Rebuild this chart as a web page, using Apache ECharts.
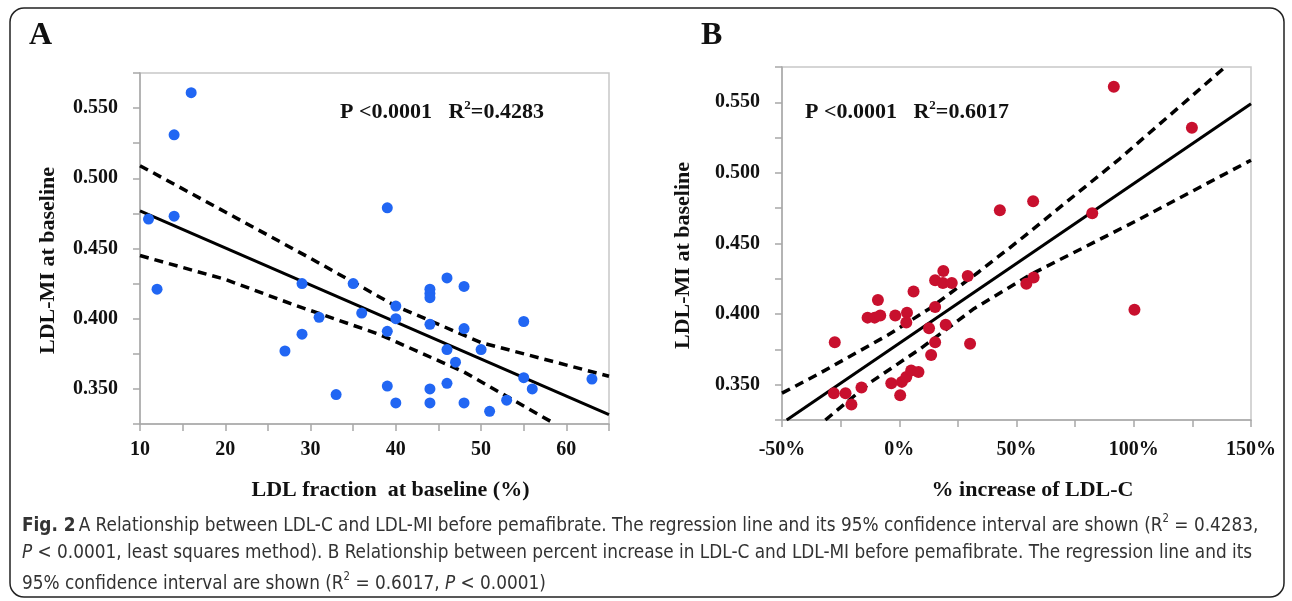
<!DOCTYPE html>
<html>
<head>
<meta charset="UTF-8">
<title>LDL-MI at baseline</title>
<script src="https://cdn.jsdelivr.net/npm/echarts@6/dist/echarts.min.js"></script>
<style>
  html, body { margin: 0; padding: 0; background: #fff; }
  #container { width: 1292px; height: 601px; }
</style>
</head>
<body>
<div id="container"></div>
<script>
// panel A: LDL fraction (%) vs LDL-MI
var ldlFraction = [16, 14, 11, 14, 39, 12, 29, 35, 36, 31, 29, 39, 27, 39, 33, 46, 48, 44, 44, 44,
  40, 40, 44, 48, 55, 46, 50, 47, 55, 56, 63, 40, 44, 44, 46, 48, 53, 51];
var ldlMiA = [0.561, 0.531, 0.471, 0.473, 0.479, 0.421, 0.425, 0.425, 0.404, 0.401, 0.389, 0.391, 0.377, 0.352, 0.346, 0.429, 0.423, 0.421, 0.418, 0.415,
  0.409, 0.400, 0.396, 0.393, 0.398, 0.378, 0.378, 0.369, 0.358, 0.350, 0.357, 0.340, 0.350, 0.340, 0.354, 0.340, 0.342, 0.334];
var fitA = [[10, 0.4768], [65, 0.3317]];
var upperA = [[10, 0.509], [20, 0.476], [30, 0.443], [40, 0.409], [50, 0.383], [65, 0.359]];
var lowerA = [[10, 0.445], [20, 0.428], [28, 0.410], [38, 0.389], [48, 0.362], [58.7, 0.325]];

// panel B: % increase of LDL-C vs LDL-MI
var pctIncrease = [-27.5, -27.9, -22.9, -20.4, -16.1, -13.5, -10.5, -8.1, -9.1, -1.7, 3.3, 3.0, 6.1, -3.4, 0.4, 1.1, 3.0, 5.1, 8.2,
  12.7, 13.6, 15.3, 15.3, 15.3, 18.8, 18.6, 22.4, 19.8, 29.2, 30.2, 54.2, 91.5, 124.8, 57.1, 82.3, 57.3, 100.3, 42.9];
var ldlMiB = [0.380, 0.344, 0.344, 0.336, 0.348, 0.3975, 0.3975, 0.399, 0.410, 0.399, 0.401, 0.394, 0.416, 0.351, 0.3425, 0.352, 0.3555, 0.360, 0.359,
  0.390, 0.371, 0.380, 0.405, 0.424, 0.4305, 0.422, 0.422, 0.3925, 0.427, 0.379, 0.4215, 0.561, 0.532, 0.480, 0.4715, 0.426, 0.403, 0.4735];
var fitB = [[-48, 0.325], [150, 0.549]];
var upperB = [[-50, 0.344], [-34, 0.358], [-5, 0.385], [13, 0.404], [34, 0.430], [51, 0.452], [94, 0.510], [139, 0.575]];
var lowerB = [[-31.5, 0.325], [-12, 0.352], [9, 0.3755], [32, 0.404], [56, 0.428], [101, 0.466], [150, 0.509]];

var serif = '"Liberation Serif", "DejaVu Serif", serif';
var narrow = '"Liberation Sans Narrow", "DejaVu Sans Condensed", "Noto Sans", sans-serif';
var axisGrey = '#a8a8a8';

function pairs(xs, ys) {
  return xs.map(function (x, i) { return [x, ys[i]]; });
}

function yAxisFor(grid, gap) {
  return {
    type: 'value', gridIndex: grid, min: 0.325, max: 0.575, interval: 0.025,
    name: 'LDL-MI at baseline', nameLocation: 'middle', nameGap: gap,
    nameTextStyle: { fontFamily: serif, fontWeight: 'bold', fontSize: 22, color: '#111', padding: [0, 24, 0, 0] },
    axisLine: { show: true, onZero: false, lineStyle: { color: axisGrey, width: 1.5 } },
    axisTick: { show: true, length: 7, lineStyle: { color: axisGrey, width: 1.5 } },
    axisLabel: {
      margin: 22, fontFamily: serif, fontWeight: 'bold', fontSize: 20, color: '#111',
      formatter: function (v) { return Math.round(v * 1000) % 50 === 0 ? v.toFixed(3) : ''; }
    },
    splitLine: { show: false }
  };
}

function xAxisFor(grid, min, max, step, label, name, gap, margin) {
  return {
    type: 'value', gridIndex: grid, min: min, max: max, interval: step,
    name: name, nameLocation: 'middle', nameGap: gap,
    nameTextStyle: { fontFamily: serif, fontWeight: 'bold', fontSize: 22, color: '#111', padding: [0, 0, 0, 32] },
    axisLine: { show: true, onZero: false, lineStyle: { color: axisGrey, width: 1.5 } },
    axisTick: { show: true, length: 7, lineStyle: { color: axisGrey, width: 1.5 } },
    axisLabel: { margin: margin, fontFamily: serif, fontWeight: 'bold', fontSize: 20, color: '#111', formatter: label },
    splitLine: { show: false }
  };
}

function dashed(grid, data) {
  return {
    type: 'line', xAxisIndex: grid, yAxisIndex: grid, data: data, smooth: false,
    showSymbol: false, silent: true,
    lineStyle: { color: '#000', width: 3.5, type: [9, 6] }
  };
}

function captionLine(top, text) {
  return {
    type: 'text', left: 22, top: top, scaleX: 0.94,
    style: {
      text: text,
      rich: {
        b: { fontFamily: narrow, fontWeight: 'bold', fontSize: 20, fill: '#333', lineHeight: 26 },
        n: { fontFamily: narrow, fontSize: 20, fill: '#333', lineHeight: 26 },
        i: { fontFamily: narrow, fontStyle: 'italic', fontSize: 20, fill: '#333', lineHeight: 26 },
        s: { fontFamily: narrow, fontSize: 12, fill: '#333', verticalAlign: 'top', lineHeight: 26 }
      }
    }
  };
}

var noteRich = {
  a: { fontFamily: serif, fontWeight: 'bold', fontSize: 22, fill: '#111', lineHeight: 26 },
  s: { fontFamily: serif, fontWeight: 'bold', fontSize: 13, fill: '#111', verticalAlign: 'top', lineHeight: 26 }
};

var myChart = echarts.init(document.getElementById('container'));
var option = {
  backgroundColor: '#fff',
  animation: false,
  grid: [
    { left: 140, top: 73, width: 469, height: 351, show: true, borderColor: '#c8c8c8', borderWidth: 1.5, outerBoundsMode: 'none' },
    { left: 782, top: 67, width: 469, height: 353, show: true, borderColor: '#c8c8c8', borderWidth: 1.5, outerBoundsMode: 'none' }
  ],
  xAxis: [
    xAxisFor(0, 10, 65, 5, function (v) { return v % 10 === 0 ? String(v) : ''; },
      'LDL fraction  at baseline (%)', 55, 16),
    xAxisFor(1, -50, 150, 25, function (v) { return v % 50 === 0 ? v + '%' : ''; },
      '% increase of LDL-C', 59, 20)
  ],
  yAxis: [yAxisFor(0, 81), yAxisFor(1, 88)],
  series: [
    {
      type: 'scatter', xAxisIndex: 0, yAxisIndex: 0, data: pairs(ldlFraction, ldlMiA),
      symbolSize: 11, itemStyle: { color: '#2166f3', opacity: 1 }, z: 3
    },
    {
      type: 'line', xAxisIndex: 0, yAxisIndex: 0, data: fitA, showSymbol: false, silent: true,
      lineStyle: { color: '#000', width: 3 }
    },
    dashed(0, upperA),
    dashed(0, lowerA),
    {
      type: 'scatter', xAxisIndex: 1, yAxisIndex: 1, data: pairs(pctIncrease, ldlMiB),
      symbolSize: 12, itemStyle: { color: '#c8102e', opacity: 1 }, z: 3
    },
    {
      type: 'line', xAxisIndex: 1, yAxisIndex: 1, data: fitB, showSymbol: false, silent: true,
      lineStyle: { color: '#000', width: 3 }
    },
    dashed(1, upperB),
    dashed(1, lowerB)
  ],
  graphic: [
    {
      type: 'rect', z: -1, silent: true,
      shape: { x: 10, y: 8, width: 1274, height: 589, r: 14 },
      style: { fill: 'none', stroke: '#222', lineWidth: 1.5 }
    },
    { type: 'text', left: 29, top: 20, style: { text: 'A', font: 'bold 32px ' + serif, fill: '#111' } },
    { type: 'text', left: 701, top: 20, style: { text: 'B', font: 'bold 32px ' + serif, fill: '#111' } },
    { type: 'text', left: 340, top: 99, style: { text: '{a|P <0.0001   R}{s|2}{a|=0.4283}', rich: noteRich } },
    { type: 'text', left: 805, top: 99, style: { text: '{a|P <0.0001   R}{s|2}{a|=0.6017}', rich: noteRich } },
    captionLine(513, '{b|Fig. 2} {n|A Relationship between LDL-C and LDL-MI before pemafibrate. The regression line and its 95% confidence interval are shown (R}{s|2}{n| = 0.4283,}'),
    captionLine(543, '{i|P}{n| < 0.0001, least squares method). B Relationship between percent increase in LDL-C and LDL-MI before pemafibrate. The regression line and its}'),
    captionLine(571, '{n|95% confidence interval are shown (R}{s|2}{n| = 0.6017, }{i|P}{n| < 0.0001)}')
  ]
};
myChart.setOption(option);
</script>
</body>
</html>
